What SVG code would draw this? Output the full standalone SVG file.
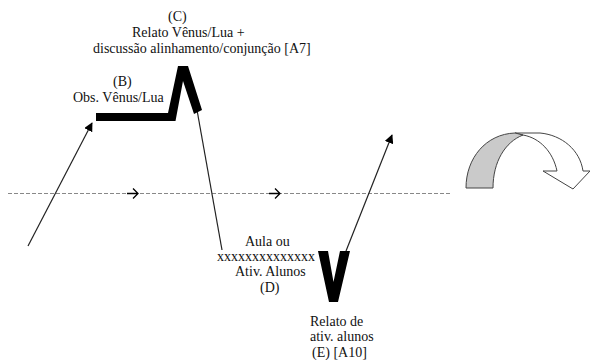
<svg xmlns="http://www.w3.org/2000/svg" width="590" height="360" viewBox="0 0 590 360">
<defs>
<marker id="ah" viewBox="0 0 10 10" refX="9" refY="5" markerWidth="9" markerHeight="9" markerUnits="userSpaceOnUse" orient="auto">
<path d="M0,0 L10,5 L0,10 Z" fill="#000"/>
</marker>
</defs>
<style>
text{font-family:"Liberation Serif","Times New Roman",serif;font-size:14px;fill:#111}
.thin{stroke:#222;stroke-width:1.2;fill:none}
.boldfill{fill:#000;stroke:none}
.dash{stroke:#888;stroke-width:1;stroke-dasharray:4 2;fill:none}
.chev{stroke:#000;stroke-width:1.3;fill:none}
</style>
<rect width="590" height="360" fill="#fff"/>
<g id="axis">
<line class="dash" x1="8" y1="193.5" x2="452" y2="193.5"/>
<path class="chev" d="M127,193.5 H138 M133,188.5 L138,193.5 L133,198.5"/>
<path class="chev" d="M269,193.5 H280 M275,188.5 L280,193.5 L275,198.5"/>
</g>
<g id="connectors">
<line class="thin" x1="28" y1="246" x2="92" y2="123" marker-end="url(#ah)"/>
<line class="thin" x1="197" y1="110" x2="222" y2="250"/>
<line class="thin" x1="346" y1="251" x2="392" y2="135" marker-end="url(#ah)"/>
</g>
<g id="nodeB">
<path class="boldfill" d="M96,113 L168,113 L178,66 L188,66 L202,110 L194,114 L183,81 L175.5,121 L96,121 Z"/>
<text x="113" y="86">(B)</text>
<text x="73" y="102">Obs. Vênus/Lua</text>
</g>
<g id="nodeC">
<text x="168" y="21">(C)</text>
<text x="132" y="37">Relato Vênus/Lua +</text>
<text x="93" y="53">discussão alinhamento/conjunção [A7]</text>
</g>
<g id="nodeD">
<text x="245" y="246">Aula ou</text>
<text x="217" y="261">xxxxxxxxxxxxxx</text>
<text x="235" y="276">Ativ. Alunos</text>
<text x="260" y="292">(D)</text>
</g>
<g id="nodeE">
<path class="boldfill" d="M318,251 L328,251 L333.5,282 L340,251 L350,251 L338,302 L329,302 Z"/>
<text x="310" y="326">Relato de</text>
<text x="310" y="341">ativ. alunos</text>
<text x="312" y="357">(E) [A10]</text>
</g>
<g id="cycle">
<path d="M515,133 L540,133 C562,135 580,150 583,171 L590,171 L573,189 L543,171 L557,171 C553,152 540,138 523,135 Z" fill="#fff" stroke="#444" stroke-width="1"/>
<path d="M466,188 C466,158 486,134 515,133 L523,135 C505,142 493,162 493,188 Z" fill="#cacaca" stroke="#444" stroke-width="1"/>
</g>
</svg>
